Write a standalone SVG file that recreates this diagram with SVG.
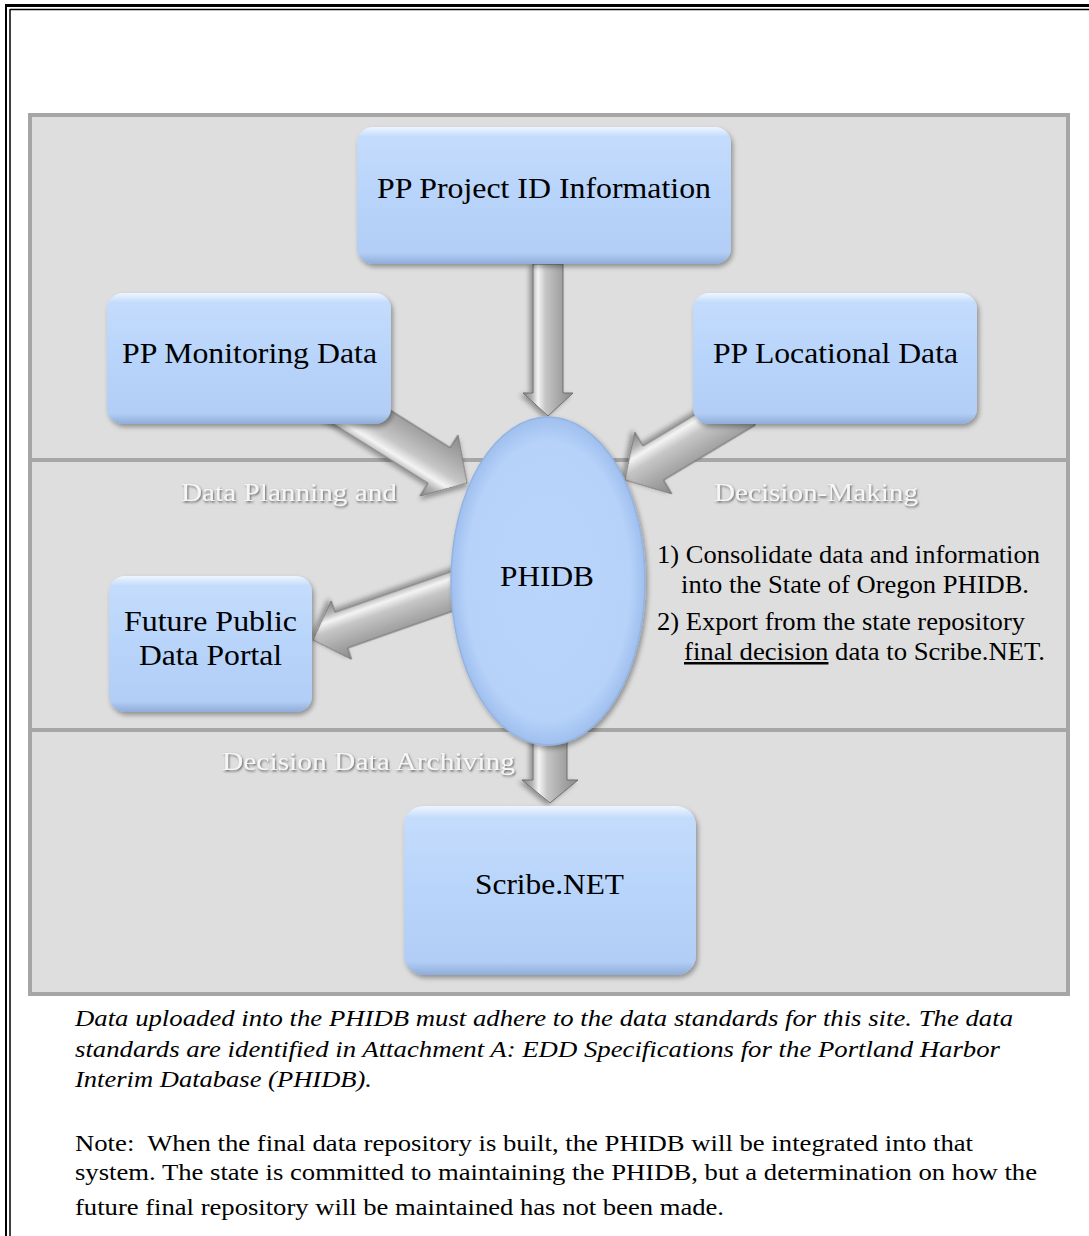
<svg xmlns="http://www.w3.org/2000/svg" width="1089" height="1236" viewBox="0 0 1089 1236">
<style>
  .serif { font-family: "Liberation Serif", "Times New Roman", serif; }
  .node-text { font-family: "Liberation Serif", "Times New Roman", serif; font-size: 30px; fill: #000; text-anchor: middle; }
  .band { font-family: "Liberation Serif", "Times New Roman", serif; font-size: 26px; fill: #f6f6f6; filter: url(#txtShadow); }
  .note { font-family: "Liberation Serif", "Times New Roman", serif; font-size: 24px; fill: #000; }
  .arrow { fill: url(#arrowGrad); stroke: #6f6f6f; stroke-width: 1; stroke-linejoin: miter; filter: url(#shadow); }
  .box { fill: url(#boxGrad); filter: url(#shadow); }
</style>
<defs>
  <linearGradient id="boxGrad" x1="0" y1="0" x2="0" y2="1">
    <stop offset="0" stop-color="#eef6ff"/>
    <stop offset="0.07" stop-color="#c4dcfc"/>
    <stop offset="0.5" stop-color="#b8d4fa"/>
    <stop offset="0.92" stop-color="#b2cef6"/>
    <stop offset="1" stop-color="#8fadd9"/>
  </linearGradient>
  <radialGradient id="ellGrad" cx="0.5" cy="0.5" r="0.5">
    <stop offset="0" stop-color="#b9d5fb"/>
    <stop offset="0.85" stop-color="#b6d2f9"/>
    <stop offset="1" stop-color="#9fbfee"/>
  </radialGradient>
  <linearGradient id="arrowGrad" x1="0" y1="0" x2="0" y2="1">
    <stop offset="0" stop-color="#8a8a8a"/>
    <stop offset="0.3" stop-color="#a9a9a9"/>
    <stop offset="0.55" stop-color="#c6c6c6"/>
    <stop offset="0.7" stop-color="#f4f4f4"/>
    <stop offset="0.82" stop-color="#b4b4b4"/>
    <stop offset="1" stop-color="#858585"/>
  </linearGradient>
  <filter id="shadow" x="-20%" y="-20%" width="140%" height="140%">
    <feDropShadow dx="2" dy="3" stdDeviation="2.5" flood-color="#000" flood-opacity="0.35"/>
  </filter>
  <filter id="txtShadow" x="-10%" y="-30%" width="120%" height="160%">
    <feDropShadow dx="1" dy="1.5" stdDeviation="1" flood-color="#444" flood-opacity="0.8"/>
  </filter>
</defs>

<!-- page border -->
<g id="page-border" fill="none" stroke="#000">
  <line x1="6" y1="4" x2="6" y2="1236" stroke-width="2"/>
  <line x1="10" y1="9" x2="10" y2="1236" stroke-width="1.5"/>
  <line x1="5" y1="5.5" x2="1089" y2="5.5" stroke-width="3"/>
  <line x1="10" y1="9.5" x2="1089" y2="9.5" stroke-width="1.5"/>
</g>

<!-- background panel with bands -->
<g id="panel">
  <rect x="30" y="115" width="1038" height="879" fill="#dedede" stroke="#a6a6a6" stroke-width="4"/>
  <line x1="30" y1="460" x2="1068" y2="460" stroke="#a6a6a6" stroke-width="4"/>
  <line x1="30" y1="730" x2="1068" y2="730" stroke="#a6a6a6" stroke-width="4"/>
</g>

<!-- band labels -->
<g id="band-labels">
  <text class="band" x="181" y="501" textLength="216" lengthAdjust="spacingAndGlyphs">Data Planning and</text>
  <text class="band" x="714" y="501" textLength="204" lengthAdjust="spacingAndGlyphs">Decision-Making</text>
  <text class="band" x="222" y="770" textLength="293" lengthAdjust="spacingAndGlyphs">Decision Data Archiving</text>
</g>

<!-- connectors -->
<g id="connectors">
  <path class="arrow" transform="translate(548,416) rotate(90)" d="M0,0 L-23,-25 L-23,-15 L-152,-15 L-152,15 L-23,15 L-23,25 Z"/>
  <path class="arrow" transform="translate(467,483) rotate(32)" d="M0,0 L-33,-36 L-33,-21 L-165,-21 L-165,21 L-33,21 L-33,36 Z"/>
  <path class="arrow" transform="translate(625,480) rotate(149)" d="M0,0 L-33,-36 L-33,-20 L-140,-20 L-140,20 L-33,20 L-33,36 Z"/>
  <path class="arrow" transform="translate(313,640) rotate(160.7)" d="M0,0 L-30,-31 L-30,-19 L-170,-19 L-170,19 L-30,19 L-30,31 Z"/>
  <path class="arrow" transform="translate(550,803) rotate(90)" d="M0,0 L-23,-28 L-23,-17 L-90,-17 L-90,17 L-23,17 L-23,28 Z"/>
</g>

<!-- nodes -->
<g id="node-project-id">
  <rect class="box" x="357" y="127" width="374" height="137" rx="16"/>
  <text class="node-text" x="544" y="198" textLength="334" lengthAdjust="spacingAndGlyphs">PP Project ID Information</text>
</g>
<g id="node-monitoring">
  <rect class="box" x="107" y="293" width="284" height="131" rx="16"/>
  <text class="node-text" x="249.5" y="363" textLength="255" lengthAdjust="spacingAndGlyphs">PP Monitoring Data</text>
</g>
<g id="node-locational">
  <rect class="box" x="693" y="293" width="284" height="131" rx="16"/>
  <text class="node-text" x="835.5" y="363" textLength="245" lengthAdjust="spacingAndGlyphs">PP Locational Data</text>
</g>
<g id="node-portal">
  <rect class="box" x="109" y="576" width="203" height="136" rx="16"/>
  <text class="node-text" x="210.5" y="631" textLength="173" lengthAdjust="spacingAndGlyphs">Future Public</text>
  <text class="node-text" x="210.5" y="665" textLength="143" lengthAdjust="spacingAndGlyphs">Data Portal</text>
</g>
<g id="node-scribe">
  <rect class="box" x="404" y="806" width="292" height="169" rx="20"/>
  <text class="node-text" x="549.5" y="894" textLength="149" lengthAdjust="spacingAndGlyphs">Scribe.NET</text>
</g>
<g id="node-phidb">
  <ellipse cx="548" cy="581" rx="97" ry="164" fill="url(#ellGrad)" stroke="#93b3e2" stroke-width="1.5" filter="url(#shadow)"/>
  <text class="node-text" x="547" y="586" textLength="94" lengthAdjust="spacingAndGlyphs">PHIDB</text>
</g>

<!-- description text -->
<g id="description" class="serif" font-size="25" fill="#000">
  <text x="657" y="563" textLength="383" lengthAdjust="spacingAndGlyphs">1) Consolidate data and information</text>
  <text x="681" y="593" textLength="348" lengthAdjust="spacingAndGlyphs">into the State of Oregon PHIDB.</text>
  <text x="657" y="630" textLength="368" lengthAdjust="spacingAndGlyphs">2) Export from the state repository</text>
  <text x="684" y="660" textLength="361" lengthAdjust="spacingAndGlyphs"><tspan text-decoration="underline">final decision</tspan> data to Scribe.NET.</text>
</g>

<!-- notes below -->
<g id="notes">
  <text class="note" font-style="italic" x="75" y="1026" textLength="938" lengthAdjust="spacingAndGlyphs">Data uploaded into the PHIDB must adhere to the data standards for this site. The data</text>
  <text class="note" font-style="italic" x="75" y="1057" textLength="925" lengthAdjust="spacingAndGlyphs">standards are identified in Attachment A: EDD Specifications for the Portland Harbor</text>
  <text class="note" font-style="italic" x="75" y="1087" textLength="297" lengthAdjust="spacingAndGlyphs">Interim Database (PHIDB).</text>
  <text class="note" x="75" y="1151" textLength="898" lengthAdjust="spacingAndGlyphs" xml:space="preserve">Note:  When the final data repository is built, the PHIDB will be integrated into that</text>
  <text class="note" x="75" y="1180" textLength="962" lengthAdjust="spacingAndGlyphs">system. The state is committed to maintaining the PHIDB, but a determination on how the</text>
  <text class="note" x="75" y="1215" textLength="649" lengthAdjust="spacingAndGlyphs">future final repository will be maintained has not been made.</text>
</g>
</svg>
